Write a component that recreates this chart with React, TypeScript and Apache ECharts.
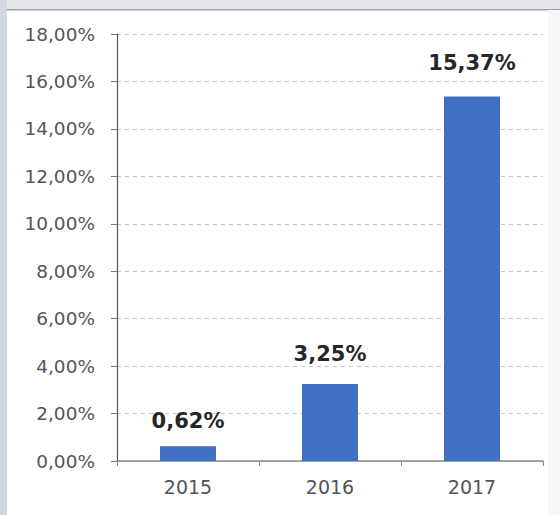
import React, { useEffect, useRef } from "react";
import * as echarts from "echarts";

const categories = ["2015", "2016", "2017"];
const values = [0.62, 3.25, 15.37];
const labelDistances = [15, 19, 23];
const yMin = 0;
const yMax = 18;
const yInterval = 2;

const fmt = (v: number) => v.toFixed(2).replace(".", ",") + "%";

export default function App() {
  const ref = useRef<HTMLDivElement>(null);
  useEffect(() => {
    if (!ref.current) return;
    const chart = echarts.init(ref.current, undefined, { renderer: "svg" });
    chart.setOption({
      animation: false,
      backgroundColor: "#ffffff",
      textStyle: { fontFamily: "DejaVu Sans" },
      graphic: [
        { type: "rect", shape: { x: 0, y: 0, width: 560, height: 9 }, style: { fill: "#e4e6ea" }, z: -1 },
        { type: "rect", shape: { x: 0, y: 9, width: 560, height: 1.5 }, style: { fill: "#9a9ea6" }, z: -1 },
        { type: "rect", shape: { x: 0, y: 0, width: 7, height: 515 }, style: { fill: "#d3d8e0" }, z: -1 },
        { type: "rect", shape: { x: 548, y: 10, width: 12, height: 505 }, style: { fill: "#f4f6f8" }, z: -1 },
      ],
      grid: { left: 117, right: 17, top: 34, bottom: 54, containLabel: false },
      xAxis: {
        type: "category",
        data: categories,
        axisLine: { show: true, lineStyle: { color: "#888888", width: 1.5 } },
        axisTick: { show: true, length: 5, lineStyle: { color: "#888888" } },
        axisLabel: { color: "#555555", fontSize: 19, margin: 16 },
      },
      yAxis: {
        type: "value",
        min: yMin,
        max: yMax,
        interval: yInterval,
        axisLine: { show: true, lineStyle: { color: "#555555", width: 1.2 } },
        axisTick: { show: true, length: 6, lineStyle: { color: "#777777" } },
        axisLabel: { color: "#555555", fontSize: 18.5, margin: 22, formatter: (v: number) => fmt(v) },
        splitLine: { show: true, lineStyle: { color: "#c4c4c4", type: [4, 4], width: 1 } },
      },
      series: [
        {
          type: "bar",
          data: values.map((v, i) => ({ value: v, label: { distance: labelDistances[i] } })),
          barWidth: 56,
          itemStyle: { color: "#4070c4" },
          label: {
            show: true,
            position: "top",
            fontSize: 21,
            fontWeight: "bold",
            color: "#262626",
            formatter: (p: any) => fmt(p.value),
          },
        },
      ],
    });
    return () => chart.dispose();
  }, []);
  return (
    <div
      ref={ref}
      style={{ position: "fixed", left: 0, top: 0, width: 560, height: 515 }}
    />
  );
}
